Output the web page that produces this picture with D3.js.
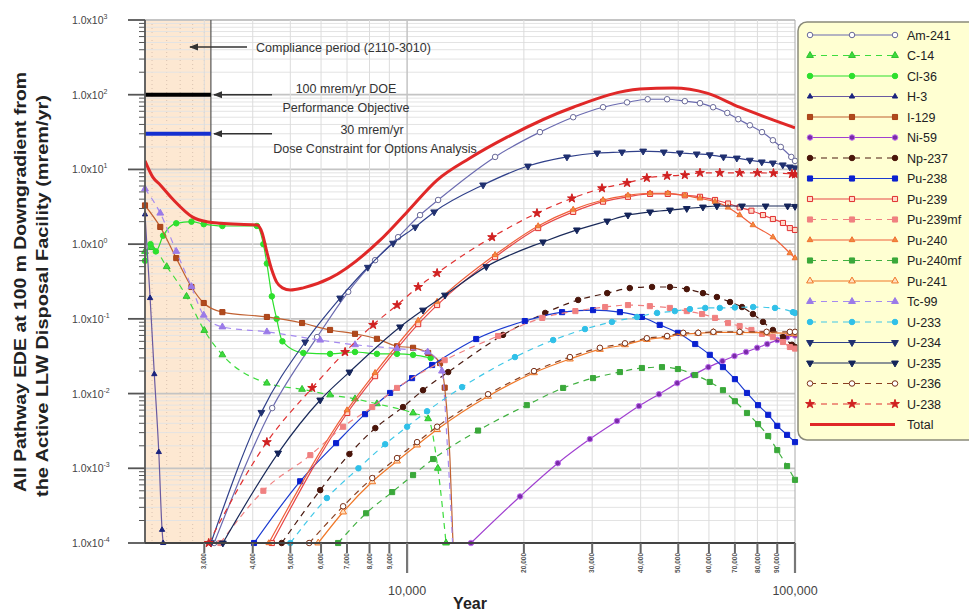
<!DOCTYPE html>
<html><head><meta charset="utf-8">
<script src="https://cdn.jsdelivr.net/npm/d3@7"></script>
<style>body{margin:0;background:#fff}svg{display:block;font-family:Arial,"Liberation Sans",sans-serif}</style>
</head><body><svg id="c" width="969" height="615"></svg>
<script>
// ---------------- DATA (year, dose in mrem/yr) ----------------
const am241Year=[3180,4490,5860,7050,8270,9480,10800,12020,16860,22000,26800,32000,36900,41700,46800,52000,56900,61500,66900,71400,76500,82200,87700,91900,97800,100000];
const am241Dose=[1e-4,6.4e-3,0.057,0.23,0.61,1.24,2.45,3.9,14.7,31.6,50,68,79,87,87,82,77,68,57,47,39,31.6,24.6,20,14.7,13];
const c14Year=[2110,2200,2400,2700,3000,3340,4350,5360,6330,7340,8360,10360,11330,12000,12600];
const c14Dose=[0.8,0.9,0.5,0.2,0.07,0.033,0.0138,0.0114,9.6e-3,8.5e-3,7.3e-3,5.5e-3,4.6e-3,1e-3,1e-4];
const cl36Year=[2110,2180,2250,2350,2540,2780,2990,3340,4100,4260,4350,4480,4610,4770,5400,6330,7340,8360,9420,10360,11500];
const cl36Dose=[0.6,1.0,0.8,1.3,1.9,2.0,1.85,1.75,1.75,1.0,0.55,0.2,0.1,0.05,0.035,0.034,0.036,0.034,0.034,0.033,0.03];
const h3Year=[2110,2175,2230,2290,2335,2350];
const h3Dose=[2.5,0.19,0.0182,1.65e-3,1.5e-4,1e-4];
const i129Year=[2110,2310,2540,2780,2990,3340,4350,5360,6330,7340,8360,9420,10360,11330,12160,12500,12900,13130];
const i129Dose=[3.3,1.7,0.65,0.267,0.163,0.123,0.106,0.088,0.071,0.063,0.054,0.043,0.041,0.035,0.0256,0.012,1.3e-3,1e-4];
const ni59Year=[14610,19550,24460,29600,34760,39600,44600,49700,54600,59800,65000,69800,74800,79900,84800,90000,95400,100000];
const ni59Dose=[1e-4,4.2e-4,1.17e-3,2.46e-3,4.3e-3,6.8e-3,9.8e-3,0.0138,0.0177,0.0226,0.0272,0.0318,0.036,0.041,0.046,0.052,0.057,0.06];
const np237Year=[4750,5970,7100,8280,9760,10990,12760,17670,22700,27600,32800,37500,42800,47600,52600,57900,62900,68000,73000,77900,82700,87700,93100,98200,100000];
const np237Dose=[1e-4,5.1e-4,1.55e-3,3.45e-3,6.6e-3,0.0111,0.0194,0.061,0.12,0.179,0.221,0.258,0.267,0.267,0.25,0.221,0.196,0.168,0.144,0.116,0.091,0.071,0.057,0.045,0.042];
const pu238Year=[4030,5300,6560,7790,9040,10300,11600,15070,20110,25090,30150,35370,40300,44800,49900,55300,60300,65200,70000,75200,80300,85300,90000,95400,100000];
const pu238Dose=[1e-4,6.7e-4,2.17e-3,5.3e-3,0.0102,0.0161,0.0241,0.0537,0.0935,0.123,0.131,0.123,0.106,0.083,0.065,0.046,0.033,0.0226,0.0156,0.0102,7.0e-3,5.2e-3,3.7e-3,2.8e-3,2.24e-3];
const pu239Year=[4480,7010,8270,10680,11950,16860,21770,26800,32000,37100,42300,47000,52000,56900,62200,67200,72000,77200,82700,87700,93100,97000,100000];
const pu239Dose=[1e-4,5.5e-3,0.0171,0.085,0.153,0.67,1.64,2.7,3.7,4.3,4.7,4.7,4.5,4.3,3.9,3.5,3.1,2.8,2.45,2.17,1.92,1.64,1.55];
const pu239mfYear=[3300,4260,5630,6840,8130,9420,12500,17160,22300,27150,32400,37100,42250,47570,52600,57600,62200,67200,72000,77200,82200,87700,93100,97000,100000];
const pu239mfDose=[1e-4,5e-4,1.5e-3,3.6e-3,6.6e-3,0.0119,0.028,0.059,0.103,0.127,0.144,0.153,0.148,0.14,0.127,0.116,0.103,0.088,0.08,0.071,0.063,0.057,0.049,0.042,0.04];
const pu240Year=[4400,7000,8270,10680,11950,16860,21770,26800,32000,37100,42300,47000,52000,56900,62200,67200,72000,77900,87700,97000,100000];
const pu240Dose=[1e-4,6e-3,0.019,0.095,0.17,0.72,1.75,2.9,3.9,4.5,4.8,4.8,4.5,4.1,3.7,3.1,2.45,1.8,1.24,0.76,0.65];
const pu240mfYear=[6640,7840,9150,10360,11670,15240,20350,25250,30150,35370,40300,45400,49900,55300,60300,65200,70000,75200,80300,85300,90000,95400,100000];
const pu240mfDose=[1e-4,2.5e-4,4.8e-4,8.1e-4,1.33e-3,3.2e-3,7.0e-3,0.0119,0.0161,0.0194,0.022,0.0226,0.0213,0.0177,0.0143,0.0111,7.9e-3,5.5e-3,3.9e-3,2.7e-3,1.75e-3,1.07e-3,7.0e-4];
const pu241Year=[5900,6840,8130,9420,10610,11950,16170,21240,26290,31410,36450,41500,46800,51500,56300,61600,72000,84500,97000,100000];
const pu241Dose=[1e-4,2.6e-4,6.6e-4,1.25e-3,2.05e-3,3.3e-3,9.2e-3,0.019,0.029,0.039,0.045,0.053,0.057,0.063,0.064,0.066,0.066,0.065,0.064,0.063];
const tc99Year=[2110,2310,2540,2780,2990,3340,4350,5970,7340,9420,11300,12300,12700,13100];
const tc99Dose=[5.5,2.6,0.8,0.27,0.112,0.078,0.067,0.052,0.045,0.04,0.036,0.02,2e-3,1e-4];
const u233Year=[5000,6210,7490,8780,10000,11260,13860,18970,23800,28750,33730,39150,44100,49000,53600,58700,64000,70000,78000,88800,98800,100000];
const u233Dose=[1e-4,4.0e-4,1.0e-3,2.1e-3,3.6e-3,5.8e-3,0.0122,0.0308,0.052,0.073,0.091,0.106,0.12,0.127,0.135,0.14,0.14,0.142,0.144,0.14,0.123,0.12];
const u234Year=[3120,4210,5460,6720,7920,9200,10490,11740,15700,20500,25830,30900,35800,40600,45900,50500,55800,60300,65400,70800,76500,82100,87700,93000,97000,100000];
const u234Dose=[1e-4,5.6e-3,0.049,0.19,0.49,1.03,1.69,2.7,6.2,11.1,14.7,16.6,17.1,17.6,17.1,16.6,16.1,15.7,14.7,14.2,13.3,12.6,12.2,11.5,10.8,10.5];
const u235Year=[3350,4650,5970,7100,9590,10990,12520,16000,22410,27400,32800,37100,42300,47600,52600,57900,62900,73000,84000,95700,100000];
const u235Dose=[1e-4,1.6e-3,8.2e-3,0.0194,0.078,0.131,0.208,0.5,1.07,1.55,2.04,2.45,2.7,2.86,3.0,3.14,3.24,3.24,3.24,3.24,3.2];
const u236Year=[5590,6840,8130,9420,10610,11950,16170,21240,26290,31410,36450,41500,46800,51500,56300,61600,72000,84500,97000,100000];
const u236Dose=[1e-4,3.1e-4,7.4e-4,1.37e-3,2.24e-3,3.6e-3,9.8e-3,0.02,0.0308,0.041,0.047,0.055,0.059,0.065,0.065,0.067,0.067,0.067,0.067,0.067];
const u238Year=[3080,4350,5690,6920,8170,9420,10680,11950,16560,21620,26600,31800,36900,41500,46800,52000,56900,64000,72000,80000,88000,98200,100000];
const u238Dose=[1e-4,2.24e-3,0.0119,0.036,0.083,0.153,0.267,0.41,1.24,2.6,4.1,5.6,6.6,7.7,8.2,8.4,9.0,9.0,9.0,9.0,8.9,8.7,8.6];
const totalYear=[2110,2210,2310,2500,2800,3070,3300,4110,4230,4350,4480,4610,4770,5000,5400,6330,8520,10000,11950,14530,18100,26800,39800,48500,59300,72000,87700,100000];
const totalDose=[13,7.9,6.2,3.9,2.3,1.98,1.9,1.8,1.41,0.78,0.45,0.31,0.26,0.243,0.26,0.35,1.13,2.7,7.2,14.2,27,68,119,123,105,68,46,36];

const seriesNames=["Am-241","C-14","Cl-36","H-3","I-129","Ni-59","Np-237","Pu-238","Pu-239","Pu-239mf","Pu-240","Pu-240mf","Pu-241","Tc-99","U-233","U-234","U-235","U-236","U-238","Total"];
const yTickExps=[3,2,1,0,-1,-2,-3,-4];
const xMinorTicks=[3000,4000,5000,6000,7000,8000,9000,20000,30000,40000,50000,60000,70000,80000,90000];
const xMajorTicks=[10000,100000];
const compliancePeriod=[2110,3120];
const doeObjective=100, doseConstraint=30;

// ---------------- STYLES ----------------
const S={
 "Am-241":{d:[am241Year,am241Dose],line:"#6b6bb0",dash:null,sym:"circle",fill:"#fff",stroke:"#6a6a98"},
 "C-14":{d:[c14Year,c14Dose],line:"#3ddc3d",dash:"6,5",sym:"triangle",fill:"#3ddc3d",stroke:"#30c030"},
 "Cl-36":{d:[cl36Year,cl36Dose],line:"#2de02d",dash:null,sym:"circle",fill:"#2de02d",stroke:"#2de02d"},
 "H-3":{d:[h3Year,h3Dose],line:"#6a5aa0",dash:null,sym:"triangle",fill:"#1a237e",stroke:"#1a237e",size:12},
 "I-129":{d:[i129Year,i129Dose],line:"#c06030",dash:null,sym:"square",fill:"#b04a1c",stroke:"#a84018",markTo:15},
 "Ni-59":{d:[ni59Year,ni59Dose],line:"#a040d0",dash:null,sym:"circle",fill:"#7a2aa8",stroke:"#c070f0"},
 "Np-237":{d:[np237Year,np237Dose],line:"#4a1a10",dash:"6,5",sym:"circle",fill:"#4a150a",stroke:"#4a150a"},
 "Pu-238":{d:[pu238Year,pu238Dose],line:"#1a3ad0",dash:null,sym:"square",fill:"#0a20d0",stroke:"#0a20d0"},
 "Pu-239":{d:[pu239Year,pu239Dose],line:"#e84848",dash:null,sym:"square",fill:"#ffd8c8",stroke:"#e03030"},
 "Pu-239mf":{d:[pu239mfYear,pu239mfDose],line:"#f08080",dash:"6,5",sym:"square",fill:"#f08080",stroke:"#f08080"},
 "Pu-240":{d:[pu240Year,pu240Dose],line:"#f0603a",dash:null,sym:"triangle",fill:"#f08a40",stroke:"#f07030",size:14},
 "Pu-240mf":{d:[pu240mfYear,pu240mfDose],line:"#40b040",dash:"6,5",sym:"square",fill:"#3aa83a",stroke:"#3aa83a"},
 "Pu-241":{d:[pu241Year,pu241Dose],line:"#f07828",dash:null,sym:"triangle",fill:"#ffe0c0",stroke:"#f07828"},
 "Tc-99":{d:[tc99Year,tc99Dose],line:"#a58af0",dash:"6,5",sym:"triangle",fill:"#9a7ae8",stroke:"#9a7ae8",markTo:11},
 "U-233":{d:[u233Year,u233Dose],line:"#40c8e8",dash:"6,5",sym:"circle",fill:"#30c0e8",stroke:"#30c0e8"},
 "U-234":{d:[u234Year,u234Dose],line:"#30408a",dash:null,sym:"down",fill:"#203070",stroke:"#203070"},
 "U-235":{d:[u235Year,u235Dose],line:"#1a2a5a",dash:null,sym:"down",fill:"#14245a",stroke:"#14245a"},
 "U-236":{d:[u236Year,u236Dose],line:"#8a4020",dash:"6,5",sym:"circle",fill:"#fff",stroke:"#7a3018"},
 "U-238":{d:[u238Year,u238Dose],line:"#e03030",dash:"6,5",sym:"star",fill:"#d02020",stroke:"#d02020"},
 "Total":{d:[totalYear,totalDose],line:"#e02828",dash:null,sym:null,width:3}
};

const svg=d3.select("#c");
const x=d3.scaleLog().domain([2110,100000]).range([145,795]);
const y=d3.scaleLog().domain([1e-4,1e3]).range([543,20]);
const X0=145,X1=795,Y0=543,Y1=20;

// compliance box
svg.append("rect").attr("x",x(compliancePeriod[0])).attr("y",Y1).attr("width",x(compliancePeriod[1])-x(compliancePeriod[0])).attr("height",Y0-Y1).attr("fill","#fde8d2");
[2200,2400,2600,2800,3000].forEach(v=>svg.append("line").attr("x1",x(v)).attr("x2",x(v)).attr("y1",Y1).attr("y2",Y0).attr("stroke","#d9c2b0").attr("stroke-dasharray","1,3"));

// grid
const g=svg.append("g");
for(let e=-4;e<3;e++){for(let k=2;k<10;k++){const v=k*Math.pow(10,e);g.append("line").attr("x1",X0).attr("x2",X1).attr("y1",y(v)).attr("y2",y(v)).attr("stroke","#e3e3e3").attr("stroke-width",1);}}
yTickExps.forEach(e=>g.append("line").attr("x1",X0).attr("x2",X1).attr("y1",y(Math.pow(10,e))).attr("y2",y(Math.pow(10,e))).attr("stroke","#c4c4c4").attr("stroke-width",1.8));
xMinorTicks.forEach(v=>g.append("line").attr("x1",x(v)).attr("x2",x(v)).attr("y1",Y1).attr("y2",Y0).attr("stroke","#dcdcdc"));
g.append("line").attr("x1",x(10000)).attr("x2",x(10000)).attr("y1",Y1).attr("y2",Y0).attr("stroke","#c4c4c4").attr("stroke-width",1.5);
g.append("line").attr("x1",X1).attr("x2",X1).attr("y1",Y1).attr("y2",Y0).attr("stroke","#aaa").attr("stroke-width",1);
svg.append("line").attr("x1",x(compliancePeriod[1])).attr("x2",x(compliancePeriod[1])).attr("y1",Y1).attr("y2",Y0).attr("stroke","#555").attr("stroke-width",1.2);

// reference lines + annotations
svg.append("line").attr("x1",X0).attr("x2",x(compliancePeriod[1])).attr("y1",y(doeObjective)).attr("y2",y(doeObjective)).attr("stroke","#000").attr("stroke-width",4);
svg.append("line").attr("x1",X0).attr("x2",x(compliancePeriod[1])).attr("y1",y(doseConstraint)).attr("y2",y(doseConstraint)).attr("stroke","#1530d0").attr("stroke-width",4);
const defs=svg.append("defs");
defs.append("marker").attr("id","ah").attr("viewBox","0 0 10 10").attr("refX",9).attr("refY",5).attr("markerWidth",6).attr("markerHeight",6).attr("markerUnits","strokeWidth").attr("orient","auto")
 .append("path").attr("d","M0,1 L10,5 L0,9 z").attr("fill","#333");
function arrow(x1,x2,yy){svg.append("line").attr("x1",x1).attr("x2",x2).attr("y1",yy).attr("y2",yy).attr("stroke","#333").attr("stroke-width",1.5).attr("marker-end","url(#ah)");}
arrow(247,190,47); arrow(272,214,y(doeObjective)); arrow(272,214,y(doseConstraint));
const ann=svg.append("g").attr("font-size",12.5).attr("fill","#333");
ann.append("text").attr("x",256).attr("y",52).text("Compliance period (2110-3010)");
ann.append("text").attr("x",346).attr("y",93).attr("text-anchor","middle").text("100 mrem/yr DOE");
ann.append("text").attr("x",346).attr("y",112).attr("text-anchor","middle").text("Performance Objective");
ann.append("text").attr("x",372).attr("y",134).attr("text-anchor","middle").text("30 mrem/yr");
ann.append("text").attr("x",375).attr("y",153).attr("text-anchor","middle").text("Dose Constraint for Options Analysis");

// series
defs.append("clipPath").attr("id","pc").append("rect").attr("x",X0).attr("y",Y1).attr("width",X1-X0).attr("height",Y0-Y1);
const line=d3.line().x(d=>x(d[0])).y(d=>y(d[1])).curve(d3.curveMonotoneX);
function symType(s){return s==="circle"?d3.symbolCircle:s==="square"?d3.symbolSquare:s==="star"?d3.symbolStar:d3.symbolTriangle;}
function drawMark(sel,st,cx,cy){
  const size=st.size||(st.sym==="circle"?24:st.sym==="square"?26:st.sym==="star"?24:20);
  sel.append("path").attr("d",d3.symbol().type(symType(st.sym)).size(size)())
   .attr("transform",`translate(${cx},${cy})`+(st.sym==="down"?" rotate(180)":""))
   .attr("fill",st.fill).attr("stroke",st.stroke).attr("stroke-width",1);
}
const plot=svg.append("g");
const order=seriesNames.filter(n=>n!=="Total").concat(["Total"]);
order.forEach(n=>{
  const st=S[n]; const pts=st.d[0].map((v,i)=>[v,st.d[1][i]]);
  plot.append("path").datum(pts).attr("d",line).attr("fill","none").attr("stroke",st.line).attr("stroke-width",st.width||1.2)
   .attr("stroke-dasharray",st.dash).attr("clip-path","url(#pc)");
  if(st.sym){const mg=plot.append("g");pts.forEach((p,i)=>{if(st.markTo!==undefined&&i>st.markTo)return; if(p[1]>=1e-4&&p[1]<=1e3&&p[0]<=100000)drawMark(mg,st,x(p[0]),y(p[1]));});}
});

// axes
const ax=svg.append("g").attr("stroke","#555");
ax.append("line").attr("x1",X0).attr("x2",X0).attr("y1",Y1).attr("y2",Y0).attr("stroke-width",1.8);
ax.append("line").attr("x1",X0).attr("x2",X1).attr("y1",Y0).attr("y2",Y0).attr("stroke-width",2).attr("stroke","#444");
yTickExps.forEach(e=>ax.append("line").attr("x1",128).attr("x2",X0).attr("y1",y(Math.pow(10,e))).attr("y2",y(Math.pow(10,e))).attr("stroke-width",1.8));
for(let e=-4;e<3;e++){for(let k=2;k<10;k++){const v=k*Math.pow(10,e);ax.append("line").attr("x1",139).attr("x2",X0).attr("y1",y(v)).attr("y2",y(v)).attr("stroke-width",1);}}
xMinorTicks.forEach(v=>ax.append("line").attr("x1",x(v)).attr("x2",x(v)).attr("y1",Y0).attr("y2",Y0+10).attr("stroke-width",2).attr("stroke","#666"));
xMajorTicks.forEach(v=>ax.append("line").attr("x1",x(v)).attr("x2",x(v)).attr("y1",Y0).attr("y2",Y0+30).attr("stroke-width",2.2).attr("stroke","#777"));
const tl=svg.append("g").attr("fill","#444").attr("font-size",10.5);
yTickExps.forEach(e=>{const t=tl.append("text").attr("x",72).attr("y",y(Math.pow(10,e))+4);t.append("tspan").text("1.0x10");t.append("tspan").attr("dy",-5).attr("font-size",7).text(e);});
const fmt=d3.format(",");
xMinorTicks.forEach(v=>svg.append("text").attr("transform",`translate(${x(v)+2.2},553) rotate(-90)`).attr("text-anchor","end").attr("font-size",6.5).attr("font-weight","bold").attr("fill","#555").text(fmt(v)));
xMajorTicks.forEach(v=>svg.append("text").attr("x",x(v)).attr("y",595).attr("text-anchor","middle").attr("font-size",12.5).attr("fill","#444").text(fmt(v)));
svg.append("text").attr("x",470).attr("y",609).attr("text-anchor","middle").attr("font-size",16).attr("font-weight","bold").attr("fill","#222").text("Year");
const yl=svg.append("g").attr("font-size",17).attr("font-weight","bold").attr("fill","#222").attr("text-anchor","middle");
yl.append("text").attr("transform","translate(26,282) rotate(-90)").attr("textLength",420).attr("lengthAdjust","spacingAndGlyphs").text("All Pathway EDE at 100 m Downgradient from");
yl.append("text").attr("transform","translate(48,296) rotate(-90)").attr("textLength",402).attr("lengthAdjust","spacingAndGlyphs").text("the Active LLW Disposal Facility (mrem/yr)");

// legend
const lg=svg.append("g");
lg.append("rect").attr("x",798).attr("y",22).attr("width",200).attr("height",418).attr("rx",9).attr("fill","#ffffd2").attr("stroke","#8a8a7a").attr("stroke-width",1.5);
seriesNames.forEach((n,i)=>{
  const st=S[n]; const yy=35+i*20.5;
  lg.append("line").attr("x1",810).attr("x2",895).attr("y1",yy).attr("y2",yy).attr("stroke",st.line).attr("stroke-width",st.width||1.2).attr("stroke-dasharray",st.dash);
  if(st.sym)[810,852,895].forEach(cx=>drawMark(lg,st,cx,yy));
  lg.append("text").attr("x",907).attr("y",yy+4.5).attr("font-size",12.5).attr("fill","#222").text(n);
});
</script></body></html>
